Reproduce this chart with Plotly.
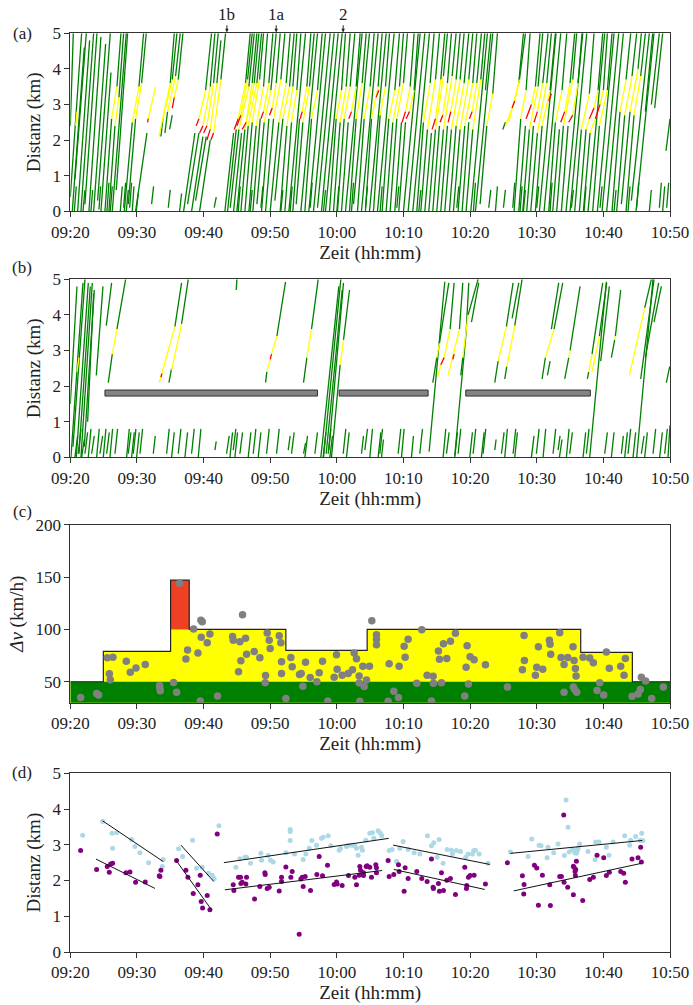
import plotly.graph_objects as go

# ---------------- common ----------------
tick_vals = [0, 10, 20, 30, 40, 50, 60, 70, 80, 90]          # minutes after 09:20
tick_text = ["09:20", "09:30", "09:40", "09:50", "10:00", "10:10", "10:20", "10:30", "10:40", "10:50"]

# ---------------- panel (a): trajectory segments (t0 min, d0 km, t1 min, d1 km) ----------------
a_green = [
    (0.0,2.4,0.45,5.0),(0.0,0.4,1.7,5.0),(0.3,0.0,2.1,4.6),(0.7,0.9,2.4,5.0),(1.1,0.0,2.9,4.8),
    (1.6,0.0,3.5,5.0),(2.2,0.2,4.0,5.0),(2.8,0.0,4.6,4.9),(3.5,0.0,5.3,4.7),(4.1,0.3,6.0,5.0),
    (4.6,0.0,6.1,3.9),(5.2,0.0,6.2,2.6),(7.0,3.5,7.6,5.0),(5.8,0.0,6.7,2.4),(7.3,3.2,8.0,5.0),
    (6.3,0.0,8.4,5.0),(6.9,0.6,8.6,5.0),
    (8.1,0.0,9.3,2.5),(10.3,3.5,11.0,5.0),(8.7,0.2,9.8,2.6),(10.7,3.6,11.4,5.0),(9.8,0.0,11.5,2.2),
    (15.0,3.6,15.6,5.0),(13.6,2.1,13.9,2.6),(15.3,3.7,16.0,5.0),(14.2,2.2,14.6,2.8),(15.8,3.8,16.5,5.0),
    (14.9,2.3,15.3,2.7),(16.2,3.7,16.9,5.0),
    (17.0,0.0,18.7,2.2),(20.3,3.4,21.2,5.0),(17.6,0.2,19.3,2.2),(21.0,3.5,21.7,5.0),(18.2,0.0,19.9,2.1),
    (21.5,3.6,22.2,5.0),(18.8,0.3,20.4,2.1),(22.0,3.6,22.6,4.8),(19.4,0.0,21.0,2.0),(22.6,3.7,23.3,5.0),
    (23.2,0.0,24.5,2.2),(26.3,3.6,27.0,5.0),(23.6,0.0,24.9,2.3),(26.6,3.7,27.3,5.0),(24.0,0.1,25.3,2.3),
    (26.8,3.5,27.6,5.0),(24.5,0.0,25.7,2.2),(27.3,3.6,28.0,5.0),(25.0,0.0,26.2,2.3),(27.6,3.6,28.3,5.0),
    (25.6,0.0,26.7,2.4),(28.0,3.6,28.7,5.0),(26.2,0.0,27.3,2.5),(28.4,3.7,29.0,5.0),(26.8,0.0,27.9,2.4),
    (29.0,3.5,29.6,5.0),(27.4,0.0,28.5,2.6),(29.8,3.6,30.4,5.0),(28.0,0.2,29.1,2.5),(30.1,3.4,30.9,5.0),
    (28.7,0.0,29.8,2.6),(30.9,3.6,31.5,5.0),(29.3,0.0,30.5,2.6),(31.6,3.7,32.2,5.0),(30.0,0.0,31.3,2.5),
    (32.4,3.6,33.0,5.0),(30.7,0.3,31.9,2.6),(32.9,3.5,33.6,5.0),
    (31.5,0.0,32.5,2.4),(33.4,3.5,34.0,5.0),(32.2,0.0,33.2,2.5),(34.0,3.4,34.6,5.0),(32.8,0.0,35.3,5.0),
    (33.4,0.0,34.4,2.6),(35.5,3.5,36.1,5.0),(33.9,0.2,34.9,2.5),(35.9,3.5,36.6,5.0),(34.6,0.0,37.1,5.0),
    (35.2,0.0,36.2,2.6),(37.1,3.4,37.8,5.0),(35.8,0.0,38.3,5.0),(36.5,0.0,39.0,5.0),(37.1,0.1,39.6,5.0),
    (37.7,0.0,40.2,5.0),(38.3,0.0,40.8,5.0),(38.9,0.0,39.9,2.6),(40.7,3.4,41.3,5.0),(39.5,0.0,40.5,2.5),
    (41.4,3.5,42.0,5.0),(40.1,0.0,41.1,2.6),(42.0,3.5,42.7,5.0),(40.7,0.0,41.7,2.5),(42.9,3.5,43.5,5.0),
    (41.3,0.0,43.8,5.0),(41.9,0.0,42.9,2.6),(43.8,3.6,44.4,5.0),(42.5,0.2,44.9,5.0),(43.1,0.0,44.1,2.6),
    (45.0,3.5,45.6,5.0),(43.7,0.0,46.2,5.0),
    (44.3,0.0,45.2,2.6),(46.2,3.5,46.8,5.0),(44.9,0.0,47.4,5.0),(45.5,0.0,46.5,2.7),(47.3,3.5,47.9,5.0),
    (46.1,0.0,48.6,5.0),(46.8,0.0,47.8,2.6),(48.7,3.4,49.4,5.0),(47.4,0.0,48.4,2.5),(49.4,3.5,50.0,5.0),
    (48.0,0.0,49.0,2.6),(50.0,3.6,50.6,5.0),(48.7,0.0,49.7,2.5),(51.0,3.5,51.6,5.0),(49.3,0.0,50.3,2.5),
    (51.6,3.4,52.2,5.0),(50.0,0.0,52.5,5.0),(50.7,0.0,53.2,5.0),(51.4,0.0,53.9,5.0),(52.0,0.0,53.0,2.5),
    (54.0,3.6,54.6,5.0),(52.6,0.0,53.6,2.3),(54.8,3.7,55.4,5.0),(53.2,0.0,54.2,2.2),(55.6,3.7,56.2,5.0),
    (53.8,0.0,54.8,2.3),(56.0,3.8,56.6,5.0),(54.4,0.0,55.4,2.4),(56.6,3.6,57.2,5.0),(55.0,0.0,56.0,2.3),
    (57.3,3.8,57.9,5.0),(55.6,0.0,56.6,2.4),(57.9,3.7,58.5,5.0),(56.2,0.0,57.2,2.3),(58.5,3.7,59.1,5.0),
    (56.9,0.0,57.9,2.4),(59.1,3.6,59.8,5.0),(57.5,0.0,58.5,2.3),(59.8,3.7,60.4,5.0),(58.2,0.0,59.2,2.4),
    (60.4,3.6,61.0,5.0),(58.8,0.0,59.8,2.5),(61.0,3.6,61.7,5.0),(59.4,0.0,60.4,2.3),(61.6,3.7,62.2,5.0),
    (60.1,0.0,62.6,5.0),(60.8,0.0,63.4,5.0),(61.5,0.2,62.5,2.4),(63.4,3.3,64.1,5.0),(62.3,3.4,63.1,5.0),
    (64.9,2.3,65.3,2.5),(67.3,3.6,68.0,5.0),(67.4,3.7,68.3,5.0),
    (66.6,0.0,67.6,2.6),(68.4,3.4,69.0,5.0),(67.3,0.0,68.3,2.4),(69.8,3.5,70.5,5.0),(67.9,0.0,68.9,2.3),
    (70.2,3.5,70.9,5.0),(68.5,0.0,69.5,2.4),(70.9,3.6,71.7,5.0),(69.1,0.0,70.1,2.2),(71.5,3.6,72.2,5.0),
    (69.8,0.0,70.8,2.4),(72.0,3.4,72.8,5.0),(70.4,0.0,72.9,5.0),(71.1,0.0,73.6,5.0),(71.8,0.0,72.8,2.5),
    (73.8,3.4,74.5,5.0),(72.4,0.0,73.4,2.3),(75.0,3.6,75.7,5.0),(73.0,0.0,74.0,2.4),(75.4,3.7,76.0,5.0),
    (73.7,0.0,74.7,2.4),(76.2,3.6,76.8,5.0),(74.4,0.0,76.9,5.0),(75.0,0.0,77.5,5.0),(75.7,0.0,76.7,2.3),
    (77.9,3.3,78.6,5.0),(76.4,0.0,77.4,2.3),(79.2,3.4,79.9,5.0),(77.0,0.0,78.0,2.2),(80.0,3.4,80.6,5.0),
    (77.7,0.0,80.2,5.0),(78.4,0.0,79.4,2.4),(80.6,3.4,81.3,5.0),(79.1,0.0,81.6,5.0),(79.8,0.0,82.3,5.0),
    (80.5,0.0,83.0,5.0),(81.3,0.0,82.5,2.8),(83.4,3.7,84.1,5.0),(82.0,0.0,83.2,2.7),(84.3,3.8,85.0,5.0),
    (82.7,0.2,84.0,2.8),(85.2,4.0,85.7,5.0),(83.4,0.0,84.6,2.7),(85.6,3.8,86.3,5.0),(84.2,0.3,86.9,5.0),
    (84.9,0.0,87.6,5.0),(86.3,2.8,87.4,5.0),(87.2,3.0,88.4,5.0),(87.7,2.9,88.9,5.0),(89.4,1.7,90.0,2.6),
    # short pieces near 0 km
    (0.6,0.0,0.9,0.7),(1.9,0.0,2.2,0.6),(3.1,0.0,3.35,0.6),(4.3,0.05,4.55,0.7),(5.5,0.0,5.8,0.8),
    (6.0,0.0,6.3,0.7),(7.5,0.0,7.8,0.7),(8.0,0.1,8.3,0.8),(8.4,0.0,8.7,0.6),(8.9,0.1,9.2,0.8),
    (9.3,0.0,9.55,0.7),(9.9,0.0,10.2,0.5),(12.2,0.2,12.5,0.7),(14.7,0.1,15.0,0.6),(16.4,0.0,16.7,0.5),
    (21.6,0.1,21.9,0.4),(25.2,0.0,25.5,0.7),(27.0,0.0,27.3,0.6),(28.6,0.1,28.9,0.7),(31.6,0.0,31.9,0.6),
    (33.0,0.0,33.3,0.7),(36.0,0.1,36.3,0.8),(38.0,0.0,38.3,0.6),(40.0,0.0,40.3,0.7),(42.2,0.0,42.5,0.8),
    (44.3,0.1,44.6,0.7),(46.5,0.0,46.8,0.7),(49.0,0.1,49.3,0.7),(52.3,0.0,52.6,0.6),(58.0,0.1,58.3,0.7),
    (60.5,0.0,60.8,0.8),(62.8,0.1,63.1,0.6),(63.8,0.0,64.1,0.7),(65.0,0.1,65.3,0.6),(66.4,0.1,66.7,0.8),
    (67.5,0.0,67.8,0.7),(68.0,0.0,68.3,0.6),(70.0,0.1,70.3,0.7),(72.0,0.0,72.3,0.8),(75.2,0.1,75.5,0.6),
    (77.1,0.0,77.4,0.7),(79.5,0.1,79.8,0.7),(81.6,0.0,81.9,0.6),(83.7,0.0,84.0,0.7),(85.0,0.1,85.3,0.8),
    (86.9,0.0,87.2,0.6),(88.4,0.1,88.7,0.8),(88.9,0.0,89.2,0.7),(89.5,0.1,89.8,0.8),
]
a_yellow = [
    (0.8,2.4,1.0,2.8),(6.2,2.6,7.0,3.5),(6.7,2.4,7.3,3.2),(9.3,2.5,10.3,3.5),(9.8,2.6,10.7,3.6),
    (11.7,2.6,12.8,3.5),(13.3,2.1,15.0,3.6),(13.9,2.6,15.3,3.7),(14.6,2.8,15.8,3.8),(15.6,3.2,16.2,3.7),
    (19.3,2.6,20.3,3.4),(19.9,2.4,21.0,3.5),(20.5,2.4,21.5,3.6),(21.0,2.3,22.0,3.6),(21.5,2.2,22.6,3.7),
    (25.2,2.6,26.3,3.6),(25.6,2.7,26.6,3.7),(25.3,2.3,26.8,3.5),(26.4,2.5,27.3,3.6),(26.2,2.3,27.6,3.6),
    (26.7,2.4,28.0,3.6),(27.3,2.5,28.4,3.7),(27.9,2.4,29.0,3.5),(29.0,2.8,29.8,3.6),(29.1,2.5,30.1,3.4),
    (30.3,2.9,30.9,3.6),(30.5,2.6,31.6,3.7),(31.3,2.5,32.4,3.6),(31.9,2.6,32.9,3.5),(32.5,2.4,33.4,3.5),
    (33.2,2.5,34.0,3.4),(34.8,2.8,35.5,3.5),(34.9,2.5,35.9,3.5),(36.2,2.6,37.1,3.4),(39.9,2.6,40.7,3.4),
    (40.5,2.5,41.4,3.5),(41.1,2.6,42.0,3.5),(42.2,2.8,42.9,3.5),(42.9,2.6,43.8,3.6),(44.1,2.6,45.0,3.5),
    (45.2,2.6,46.2,3.5),(46.5,2.7,47.3,3.5),(47.8,2.6,48.7,3.4),(48.4,2.5,49.4,3.5),(49.0,2.6,50.0,3.6),
    (50.3,2.8,51.0,3.5),(50.9,2.8,51.6,3.4),(53.0,2.5,54.0,3.6),(53.6,2.3,54.8,3.7),(54.8,2.6,55.6,3.7),
    (54.8,2.3,56.0,3.8),(55.9,2.7,56.6,3.6),(56.0,2.3,57.3,3.8),(57.1,2.8,57.9,3.7),(57.2,2.3,58.5,3.7),
    (57.9,2.4,59.1,3.6),(58.5,2.3,59.8,3.7),(59.2,2.4,60.4,3.6),(60.3,2.8,61.0,3.6),(60.4,2.3,61.6,3.7),
    (62.5,2.4,63.4,3.3),(65.3,2.4,66.3,2.9),(66.7,3.1,67.3,3.6),(65.8,2.5,67.4,3.7),
    (67.6,2.6,68.4,3.4),(69.2,3.0,69.8,3.5),(68.9,2.3,70.2,3.5),(70.1,2.8,70.9,3.6),(70.1,2.2,71.5,3.6),
    (70.8,2.4,72.0,3.4),(72.8,2.5,73.8,3.4),(74.2,2.8,75.0,3.6),(74.0,2.4,75.4,3.7),(75.4,2.7,76.2,3.6),
    (76.7,2.3,77.9,3.3),(77.4,2.3,77.9,2.6),(78.6,2.9,79.2,3.4),(78.0,2.2,78.8,2.6),(79.5,3.0,80.0,3.4),
    (79.4,2.4,80.6,3.4),(82.5,2.8,83.4,3.7),(83.2,2.7,84.3,3.8),(84.0,2.8,85.2,4.0),(84.6,2.7,85.6,3.8),
]
a_red = [
    (11.6,2.5,11.7,2.6),(15.3,2.9,15.6,3.2),(18.9,2.4,19.3,2.6),(19.4,2.2,19.9,2.4),(20.0,2.2,20.5,2.4),
    (20.5,2.0,21.0,2.3),(21.1,2.0,21.5,2.2),(24.6,2.3,25.2,2.6),(25.0,2.4,25.6,2.7),(25.8,2.3,26.4,2.5),
    (28.6,2.6,29.0,2.8),(29.9,2.7,30.3,2.9),(34.5,2.6,34.8,2.8),(41.8,2.6,42.2,2.8),(45.9,3.2,46.3,3.4),
    (49.8,2.5,50.3,2.8),(50.4,2.6,50.9,2.8),(54.3,2.3,54.8,2.6),(55.5,2.5,55.9,2.7),(56.7,2.5,57.1,2.8),
    (59.9,2.6,60.3,2.8),(66.3,2.9,66.7,3.1),(68.4,2.6,69.2,3.0),(69.6,2.5,70.1,2.8),(71.8,3.1,72.2,3.3),
    (73.6,2.5,74.2,2.8),(74.8,2.5,75.4,2.7),(77.9,2.6,78.6,2.9),(78.8,2.6,79.5,3.0),
]
a_marks = ["1b", "1a", "2"]
a_mark_t = [23.5, 30.9, 40.95]

# ---------------- panel (b) ----------------
b_green = [
    (0.1,0.0,1.9,4.9),(0.0,1.5,1.0,4.8),(0.4,0.3,2.2,5.0),(0.9,0.0,2.7,4.9),(1.3,0.1,3.0,4.8),
    (1.6,0.0,3.3,4.9),(2.1,0.3,3.6,4.7),(2.6,1.0,3.5,4.6),(3.9,2.3,4.9,4.8),(5.4,3.7,6.2,4.9),
    (5.7,2.1,6.3,2.9),(7.0,3.6,8.3,5.0),(15.7,3.67,16.7,4.9),(14.8,2.1,15.2,2.5),(16.7,3.75,17.7,5.0),
    (24.9,4.7,25.0,5.0),(29.3,2.1,29.5,2.4),(31.0,3.4,32.3,4.93),(35.0,2.1,35.5,2.8),(36.2,3.6,37.2,5.0),
    (37.6,0.0,40.3,4.8),(38.0,0.0,40.6,5.0),(38.4,0.1,40.8,4.7),(38.8,0.2,41.0,4.9),(39.2,0.0,40.5,2.6),
    (41.0,3.3,41.9,4.7),(53.85,0.16,56.2,4.93),(54.4,2.1,55.0,2.8),(55.4,3.2,56.8,4.9),(57.0,3.6,57.6,4.9),
    (58.4,3.6,58.9,4.9),(57.7,0.05,59.4,3.5),(59.4,3.5,59.8,4.9),(58.6,2.3,58.9,2.8),(59.7,4.0,61.2,5.0),
    (60.2,3.8,61.3,4.9),(63.7,2.1,64.2,2.7),(65.45,3.67,66.45,4.9),(65.2,2.2,65.5,2.55),(66.7,3.7,67.8,5.0),
    (66.3,3.9,67.3,4.9),(70.8,2.2,71.3,2.8),(72.6,3.6,73.9,4.9),(71.6,2.3,72.0,2.7),(72.2,3.6,73.3,4.9),
    (74.2,2.2,74.8,2.8),(75.0,3.0,76.5,4.8),(77.95,0.0,80.45,4.93),(77.6,2.2,77.8,2.4),(78.3,2.9,79.9,4.9),
    (79.4,3.4,80.5,4.9),(79.6,2.7,80.9,4.8),(81.2,2.8,81.7,3.3),(81.8,3.4,82.6,4.7),(86.2,4.2,87.2,5.0),
    (85.0,0.0,87.45,5.0),(85.6,2.2,87.6,5.0),(86.3,2.8,88.3,4.9),(87.6,3.8,88.7,4.8),(89.45,2.1,89.95,2.55),
    # short pieces near 0 km
    (0.7,0.0,1.1,0.6),(1.2,0.1,1.6,0.8),(1.7,0.0,2.1,0.5),(2.2,0.1,2.6,0.7),(2.7,0.0,3.1,0.8),
    (3.2,0.1,3.6,0.6),(3.95,0.0,4.35,0.8),(4.45,0.1,4.85,0.6),(4.95,0.0,5.35,0.8),(5.45,0.1,5.85,0.7),
    (5.95,0.0,6.35,0.8),(6.7,0.1,7.1,0.8),(8.45,0.0,8.85,0.8),(8.7,0.1,9.1,0.7),(9.2,0.0,9.6,0.7),
    (9.45,0.1,9.85,0.8),(9.95,0.0,10.35,0.7),(10.45,0.1,10.85,0.8),(12.45,0.1,12.75,0.6),(14.45,0.1,14.85,0.8),
    (15.2,0.0,15.6,0.7),(16.2,0.1,16.6,0.8),(17.2,0.0,17.6,0.7),(18.2,0.1,18.6,0.8),(19.2,0.0,19.6,0.8),
    (21.7,0.2,21.9,0.45),(23.45,0.1,23.85,0.6),(23.95,0.0,24.35,0.7),(24.45,0.2,24.85,0.8),(24.7,0.0,25.1,0.7),
    (25.45,0.1,25.85,0.7),(26.7,0.0,27.1,0.7),(27.45,0.1,27.85,0.8),(28.2,0.0,28.6,0.7),(29.45,0.1,29.85,0.8),
    (30.95,0.1,31.35,0.8),(32.7,0.2,33.0,0.6),(33.2,0.1,33.6,0.7),(35.0,0.1,35.3,0.4),(35.2,0.0,35.6,0.6),
    (36.7,0.1,37.1,0.7),(37.95,0.0,38.35,0.7),(38.7,0.1,39.1,0.8),(38.95,0.0,39.35,0.6),
    (40.95,0.1,41.35,0.8),(41.45,0.0,41.85,0.7),(43.7,0.1,44.0,0.6),(44.2,0.2,44.6,0.8),(44.95,0.0,45.35,0.8),
    (46.2,0.0,46.6,0.7),(46.45,0.1,46.85,0.8),(46.7,0.0,47.0,0.5),(49.2,0.1,49.6,0.8),(49.7,0.0,50.1,0.8),
    (51.2,0.0,51.5,0.6),(52.45,0.1,52.85,0.8),(55.95,0.0,56.35,0.8),(56.45,0.1,56.85,0.7),(57.7,0.0,58.1,0.7),
    (58.2,0.1,58.6,0.8),(59.95,0.0,60.35,0.7),(60.45,0.1,60.85,0.8),(61.7,0.0,62.1,0.7),(61.95,0.1,62.35,0.8),
    (63.7,0.2,63.9,0.5),(64.7,0.1,65.1,0.7),(65.2,0.0,65.6,0.8),(66.45,0.1,66.85,0.8),(66.7,0.0,67.1,0.7),
    (69.2,0.0,69.6,0.6),(69.95,0.1,70.35,0.8),(70.95,0.0,71.35,0.8),(72.45,0.1,72.85,0.8),(73.2,0.2,73.5,0.6),
    (73.4,0.0,73.8,0.5),(74.45,0.0,74.85,0.8),(74.95,0.1,75.35,0.7),(76.95,0.0,77.35,0.7),(77.45,0.1,77.85,0.8),
    (80.2,0.1,80.6,0.7),(81.2,0.0,81.6,0.7),(82.7,0.1,83.0,0.6),(83.2,0.0,83.6,0.7),(83.7,0.1,84.1,0.8),
    (84.45,0.0,84.85,0.7),(85.7,0.1,86.1,0.6),(86.2,0.0,86.6,0.7),(87.45,0.1,87.85,0.8),(88.45,0.0,88.85,0.7),
    (89.2,0.1,89.6,0.8),(89.7,0.0,90.0,0.9),
]
b_yellow = [
    (1.0,2.4,1.3,2.8),(6.3,2.9,7.0,3.6),(13.35,2.1,15.7,3.67),(15.2,2.45,16.7,3.75),(29.5,2.4,30.0,2.75),
    (30.2,2.9,31.0,3.4),(35.5,2.8,36.2,3.6),(40.5,2.6,41.0,3.3),(55.0,2.8,55.4,3.2),(55.2,2.3,55.6,2.6),
    (56.1,2.8,57.0,3.6),(56.7,2.3,58.4,3.6),(58.9,2.8,59.7,4.0),(64.2,2.7,65.45,3.67),(65.5,2.55,66.7,3.7),
    (71.3,2.8,72.6,3.6),(74.8,2.8,75.0,3.0),(77.8,2.4,78.3,2.9),(78.3,2.4,79.4,3.4),(81.7,3.3,81.8,3.4),
    (83.9,2.3,86.2,4.2),
]
b_red = [(13.6,2.25,13.75,2.35),(30.0,2.75,30.2,2.9),(55.6,2.6,56.1,2.8),(57.4,2.75,57.6,2.9)]
b_bar_start = [5.2, 40.35, 59.35]
b_bar_end = [37.1, 53.7, 78.05]
b_bar_lo = 1.72
b_bar_hi = 1.89

# ---------------- panel (c) ----------------
c_step_t = [0, 4.96, 15.05, 17.85, 32.35, 44.55, 76.6, 84.35, 90]
c_step_v = [50, 79, 100, 100, 80, 100, 78, 50, 50]
c_red_t = [15.05, 17.85]
c_red_lo = 100
c_red_hi = 147
c_base = 50
c_dot_t = [1.55,3.95,4.25,5.56,6.4,5.86,6.0,8.4,9.0,9.86,11.25,13.4,13.45,13.5,15.5,15.95,16.4,17.35,17.6,18.5,
           19.15,19.5,19.6,19.8,19.65,20.55,20.95,22.1,24.35,24.45,25.45,25.25,25.6,25.85,26.3,26.45,27.6,28.45,29.3,29.25,
           29.55,29.85,30.0,31.35,31.6,31.7,31.7,32.35,33.1,33.3,34.4,34.65,34.9,35.3,36.0,37.0,37.35,37.85,38.65,39.6,
           39.95,40.05,40.8,41.7,42.35,42.6,42.95,43.35,43.35,43.45,43.9,44.1,44.45,44.9,45.25,45.95,45.95,45.95,47.7,47.85,
           48.55,49.25,49.35,50.1,50.25,50.7,52.0,52.75,53.55,54.45,54.2,54.5,55.25,55.4,55.7,56.0,56.5,57.05,57.8,59.2,
           59.4,59.55,59.75,60.0,60.6,62.3,65.6,67.85,68.15,68.1,69.8,70.0,70.25,70.9,71.9,72.0,72.1,73.45,73.65,74.1,
           74.1,74.65,75.45,75.6,75.5,75.7,76.0,75.8,75.9,76.95,77.95,78.5,79.45,79.05,80.05,80.45,80.9,82.6,83.1,83.3,
           84.3,85.2,85.55,85.7,86.35,87.25,89.0]
c_dot_v = [35.0,38.9,37.3,72.9,73.5,57.6,51.9,69.5,59.1,63.2,66.6,46.5,44.0,41.4,49.4,40.0,144.1,71.7,80.3,100.3,
           77.4,31.6,108.8,107.2,92.6,87.2,95.5,36.5,93.2,89.7,88.1,59.5,70.0,114.1,91.5,76.3,78.8,72.9,56.0,49.1,
           96.5,89.7,81.7,94.0,87.2,69.2,58.0,34.0,73.2,64.4,57.0,57.9,45.8,68.6,54.0,49.9,58.5,69.6,31.6,54.3,
           75.9,62.0,56.2,58.0,61.5,77.4,72.0,55.4,48.8,31.3,64.7,45.5,51.6,64.7,108.3,94.9,90.5,85.4,31.3,67.2,
           40.9,34.9,64.7,83.8,73.3,90.5,48.5,99.7,56.2,55.2,31.6,48.5,79.3,71.4,49.1,86.4,72.3,88.6,96.3,36.5,
           63.8,84.4,47.8,73.9,71.1,66.3,45.1,61.4,70.3,94.2,56.2,63.8,83.5,62.0,89.7,85.9,76.3,96.8,73.2,66.6,
           39.9,73.2,83.5,70.3,45.1,42.6,40.0,62.6,55.6,73.5,72.6,68.1,49.1,41.7,37.3,78.4,62.9,64.7,56.2,72.2,
           36.2,38.4,42.6,54.3,50.8,33.9,45.1]

# ---------------- panel (d) ----------------
d_blue_t = [1.85,4.85,6.25,6.95,6.35,9.2,9.7,10.45,11.75,13.8,13.95,16.25,16.85,18.35,18.95,19.8,20.75,21.3,21.6,22.3,
            24.85,25.45,26.2,26.45,27.05,28.6,28.7,29.7,30.05,30.45,32.35,33.0,33.0,33.0,33.65,34.95,35.35,35.85,36.25,36.95,
            37.7,37.95,38.7,39.1,40.35,40.55,41.7,41.45,42.2,42.7,42.95,43.2,43.7,43.85,44.35,44.95,45.35,45.55,46.2,46.55,
            46.75,47.85,48.3,48.95,49.45,49.95,50.7,51.6,52.45,53.6,54.2,54.55,55.35,55.05,55.95,56.55,57.2,57.35,57.95,58.55,
            59.35,59.7,60.35,60.55,60.8,61.35,62.7,66.05,68.7,69.25,70.35,70.65,71.55,71.7,72.55,73.2,74.15,74.4,74.7,74.85,
            75.35,75.55,75.7,75.95,76.1,76.2,76.45,77.7,78.75,78.85,79.35,80.45,80.85,81.45,83.2,83.95,84.1,84.85,85.55,85.95,
            85.75]
d_blue_d = [3.27,3.65,3.32,3.34,2.90,3.15,2.95,2.78,2.50,2.39,2.59,2.89,2.67,3.13,2.34,2.37,2.20,2.15,2.06,3.53,
            2.37,2.61,2.65,2.65,2.48,2.76,2.57,2.70,2.57,2.52,2.78,3.43,3.37,3.12,2.74,2.59,2.74,2.90,3.12,2.99,
            3.18,3.21,3.25,2.97,2.85,2.90,2.99,2.95,2.99,2.97,2.90,2.71,2.93,2.85,3.13,3.32,3.34,3.18,3.39,3.32,
            3.25,2.84,2.87,2.53,2.90,3.09,2.87,2.78,2.74,3.25,2.97,3.06,3.15,2.65,2.48,2.87,2.85,2.74,2.84,2.81,
            2.65,2.74,2.74,2.84,2.85,2.74,2.48,2.80,2.67,3.16,2.99,2.97,2.64,2.93,2.78,3.02,2.70,4.25,3.49,2.80,
            2.87,2.85,2.78,2.76,2.85,2.90,3.02,2.81,2.58,3.08,3.08,2.93,2.71,3.08,3.25,2.99,3.13,3.23,3.13,3.11,
            3.32]
d_purp_t = [1.55,3.95,5.55,5.85,6.05,6.35,8.35,8.95,9.8,11.25,13.35,13.45,13.6,15.95,17.35,17.65,18.45,19.15,19.5,19.65,
            19.85,20.55,20.95,22.05,24.45,24.55,25.25,25.55,25.8,25.6,26.35,26.45,27.65,28.45,29.2,29.25,29.55,29.85,31.35,31.7,
            31.7,32.35,33.1,33.3,34.35,34.6,34.8,34.95,35.25,36.05,37.0,37.35,37.85,38.6,39.6,39.95,40.05,40.8,41.75,42.95,
            42.7,43.35,43.45,43.55,44.0,44.0,44.4,44.55,44.95,45.2,45.85,45.95,45.95,47.7,47.85,48.55,49.25,49.35,50.1,50.25,
            50.7,52.0,52.75,53.55,54.2,54.45,54.5,55.25,55.4,55.7,56.0,56.5,57.05,57.8,59.2,59.45,59.5,59.75,60.0,60.6,
            62.3,65.6,67.85,68.1,68.05,69.65,70.0,70.25,70.85,71.95,72.05,73.45,73.7,74.05,74.1,74.65,75.5,75.6,75.85,75.95,
            75.75,75.8,75.5,76.9,77.95,78.5,79.05,80.05,80.45,80.9,82.6,83.05,83.3,84.3,85.2,85.6,85.7]
d_purp_d = [2.84,2.31,2.39,2.23,2.46,2.48,2.22,2.24,1.95,1.96,2.13,2.11,2.29,2.56,2.29,2.09,1.64,1.88,2.15,1.41,
            1.23,1.58,1.18,3.30,1.88,1.72,2.09,2.09,1.95,1.92,1.90,2.09,1.48,1.83,2.22,2.17,1.78,1.81,1.71,2.09,
            1.97,2.38,2.09,2.25,0.50,2.04,2.09,1.83,2.11,1.72,2.17,2.67,2.13,2.43,1.89,1.96,1.90,1.86,2.14,1.88,
            2.09,2.15,2.39,2.29,2.22,2.14,2.39,2.41,2.37,2.09,2.44,2.36,2.22,2.56,2.11,2.17,2.44,2.25,1.70,2.36,
            2.06,2.25,2.06,1.97,2.60,1.81,1.78,1.92,1.70,2.22,1.72,2.01,2.06,1.61,2.37,1.78,1.86,2.09,2.14,2.15,
            1.90,2.50,2.13,1.89,1.62,2.43,2.35,1.31,2.15,1.88,1.30,2.11,2.11,3.83,1.95,1.81,2.40,2.37,2.31,2.54,
            2.25,2.14,1.60,1.44,2.03,2.09,2.71,2.64,2.14,2.23,2.25,2.20,1.95,2.60,2.64,2.93,2.52]
# fitted lines per interval: (t0, d0, t1, d1)
d_fit_blue = [(4.85,3.67,13.95,2.53),(16.6,2.99,21.55,1.97),(23.05,2.50,47.8,3.18),(48.45,2.99,62.95,2.45),(66.05,2.76,85.85,3.12)]
d_fit_purp = [(3.85,2.60,12.7,1.78),(15.85,2.57,21.2,1.18),(23.2,1.74,46.8,2.28),(48.55,2.31,62.2,1.75),(66.55,1.71,85.7,2.48)]

# ---------------- styling ----------------
FONT = "Liberation Serif, Times New Roman, serif"
TXT = "#222222"
GREEN = "#008000"
YELLOW = "#ffff00"
RED = "#ff0000"
W, H = 693, 1005
XL, XR = 70.3, 670.0
panels_px = {"a": (33.3, 211.3), "b": (279.3, 457.3), "c": (524.7, 702.7), "d": (773.3, 952.0)}


def ydom(p):
    top, bot = panels_px[p]
    return [1 - bot / H, 1 - top / H]


def seg_xy(segs):
    xs, ys = [], []
    for t0, d0, t1, d1 in segs:
        xs += [t0, t1, None]
        ys += [d0, d1, None]
    return xs, ys


fig = go.Figure()

# panel (a)
for segs, col in [(a_green, GREEN), (a_yellow, YELLOW), (a_red, RED)]:
    xs, ys = seg_xy(segs)
    fig.add_trace(go.Scatter(x=xs, y=ys, mode="lines", line=dict(color=col, width=1.3),
                             xaxis="x", yaxis="y", showlegend=False, hoverinfo="skip"))

# panel (b)
for s, e in zip(b_bar_start, b_bar_end):
    fig.add_trace(go.Scatter(x=[s, e, e, s, s], y=[b_bar_lo, b_bar_lo, b_bar_hi, b_bar_hi, b_bar_lo],
                             mode="lines", fill="toself", fillcolor="#838383",
                             line=dict(color="#333333", width=1), xaxis="x2", yaxis="y2",
                             showlegend=False, hoverinfo="skip"))
for segs, col in [(b_green, GREEN), (b_yellow, YELLOW), (b_red, RED)]:
    xs, ys = seg_xy(segs)
    fig.add_trace(go.Scatter(x=xs, y=ys, mode="lines", line=dict(color=col, width=1.3),
                             xaxis="x2", yaxis="y2", showlegend=False, hoverinfo="skip"))

# panel (c)
fig.add_trace(go.Scatter(x=c_step_t, y=c_step_v, mode="lines", line=dict(color=YELLOW, width=0, shape="hv"),
                         fill="tozeroy", fillcolor=YELLOW, xaxis="x3", yaxis="y3", showlegend=False, hoverinfo="skip"))
fig.add_trace(go.Scatter(x=[c_red_t[0], c_red_t[1], c_red_t[1], c_red_t[0], c_red_t[0]],
                         y=[c_red_lo, c_red_lo, c_red_hi, c_red_hi, c_red_lo], mode="lines", fill="toself",
                         fillcolor="#ee4123", line=dict(width=0), xaxis="x3", yaxis="y3",
                         showlegend=False, hoverinfo="skip"))
fig.add_trace(go.Scatter(x=[c_step_t[0], c_step_t[-1]], y=[c_base, c_base], mode="lines",
                         line=dict(color=GREEN, width=0), fill="tozeroy", fillcolor=GREEN,
                         xaxis="x3", yaxis="y3", showlegend=False, hoverinfo="skip"))
# outline of the step with the red block
out_t = [c_step_t[0], c_step_t[1], c_step_t[1], c_red_t[0], c_red_t[0], c_red_t[1], c_red_t[1]] + c_step_t[3:]
out_v = [c_step_v[0], c_step_v[0], c_step_v[1], c_step_v[1], c_red_hi, c_red_hi, c_step_v[3]] + c_step_v[3:]
fig.add_trace(go.Scatter(x=out_t, y=out_v, mode="lines", line=dict(color="#222222", width=1.2, shape="hv"),
                         xaxis="x3", yaxis="y3", showlegend=False, hoverinfo="skip"))
fig.add_trace(go.Scatter(x=c_dot_t, y=c_dot_v, mode="markers", marker=dict(color="#808080", size=7.5),
                         xaxis="x3", yaxis="y3", showlegend=False, hoverinfo="skip"))

# panel (d)
fig.add_trace(go.Scatter(x=d_blue_t, y=d_blue_d, mode="markers", marker=dict(color="#add8e6", size=5),
                         xaxis="x4", yaxis="y4", showlegend=False, hoverinfo="skip"))
fig.add_trace(go.Scatter(x=d_purp_t, y=d_purp_d, mode="markers", marker=dict(color="#800080", size=5),
                         xaxis="x4", yaxis="y4", showlegend=False, hoverinfo="skip"))
for segs in (d_fit_blue, d_fit_purp):
    xs, ys = seg_xy(segs)
    fig.add_trace(go.Scatter(x=xs, y=ys, mode="lines", line=dict(color="#111111", width=1),
                             xaxis="x4", yaxis="y4", showlegend=False, hoverinfo="skip"))

xdom = [XL / W, XR / W]


def xaxis(anchor):
    return dict(domain=xdom, anchor=anchor, range=[0, 90], tickvals=tick_vals, ticktext=tick_text,
                showline=True, mirror=True, linecolor="#333333", linewidth=1, ticks="outside", ticklen=5,
                tickcolor="#333333", showgrid=False, zeroline=False, automargin=False,
                tickfont=dict(family=FONT, size=17, color=TXT),
                title=dict(text="Zeit (hh:mm)", font=dict(family=FONT, size=19, color=TXT), standoff=3))


def yaxis(anchor, p, rng, vals, title):
    return dict(domain=ydom(p), anchor=anchor, range=rng, tickvals=vals,
                showline=True, mirror=True, linecolor="#333333", linewidth=1, ticks="outside", ticklen=5,
                tickcolor="#333333", showgrid=False, zeroline=False, automargin=False,
                tickfont=dict(family=FONT, size=17, color=TXT),
                title=dict(text=title, font=dict(family=FONT, size=19, color=TXT), standoff=6))


ann = []
for lab, (x, y) in zip(["(a)", "(b)", "(c)", "(d)"], [(22, 33), (22, 268), (22, 511), (22, 772)]):
    ann.append(dict(text=lab, x=x / W, y=1 - y / H, xref="paper", yref="paper", showarrow=False,
                    font=dict(family=FONT, size=17, color=TXT), xanchor="center", yanchor="middle"))
for lab, t in zip(a_marks, a_mark_t):
    ann.append(dict(text=lab, x=t, y=5, xref="x", yref="y", showarrow=True, ax=0, ay=-19,
                    arrowhead=2, arrowsize=0.7, arrowwidth=1, arrowcolor="#222222", standoff=1,
                    font=dict(family=FONT, size=17, color=TXT)))

fig.update_layout(
    width=W, height=H, autosize=False, margin=dict(l=0, r=0, t=0, b=0),
    paper_bgcolor="white", plot_bgcolor="white", showlegend=False,
    xaxis=xaxis("y"), yaxis=yaxis("x", "a", [0, 5], [0, 1, 2, 3, 4, 5], "Distanz (km)"),
    xaxis2=xaxis("y2"), yaxis2=yaxis("x2", "b", [0, 5], [0, 1, 2, 3, 4, 5], "Distanz (km)"),
    xaxis3=xaxis("y3"), yaxis3=yaxis("x3", "c", [30, 200], [50, 100, 150, 200], "<i>Δv</i> (km/h)"),
    xaxis4=xaxis("y4"), yaxis4=yaxis("x4", "d", [0, 5], [0, 1, 2, 3, 4, 5], "Distanz (km)"),
    annotations=ann,
)

fig.write_html("out.html", config={"displayModeBar": False},
               post_script="document.body.style.margin='0';document.body.style.overflow='hidden';")
